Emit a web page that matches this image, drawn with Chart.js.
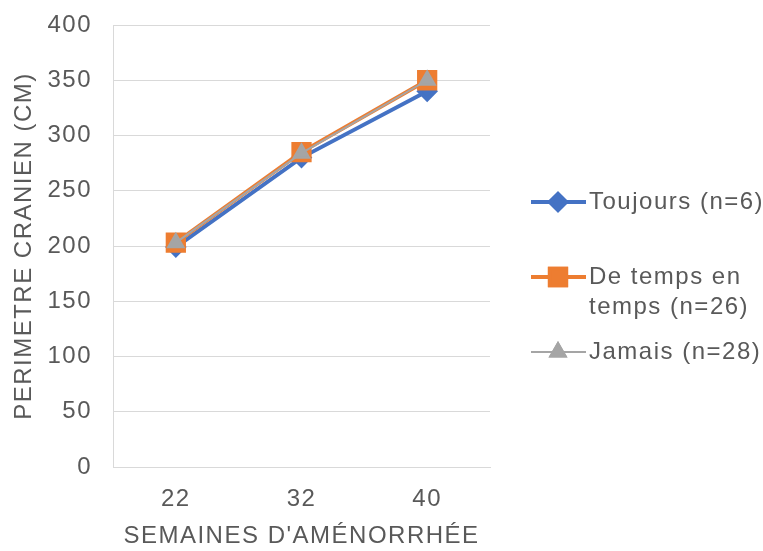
<!DOCTYPE html>
<html>
<head>
<meta charset="utf-8">
<script src="https://cdn.jsdelivr.net/npm/chart.js@4"></script>
<style>
  body{margin:0;background:#fff;}
  #wrap{position:relative;width:763px;height:551px;}
</style>
</head>
<body>
<div id="wrap"><canvas id="chart" width="763" height="551"></canvas></div>
<script>
// donnees -------------
const semaines = ['22', '32', '40'];
const toujours = [199, 280, 340];
const deTemps = [203, 285, 350];
const jamais = [203, 284, 350];
const legendLabels = [['Toujours (n=6)'], ['De temps en', 'temps (n=26)'], ['Jamais (n=28)']];

const txtColor = '#595959';
const gridColor = '#d9d9d9';
const fontFam = '"Liberation Sans", Arial, sans-serif';
const spacing = '1.5px';

// espacement des lettres (rendu type Excel)
const letterSpace = {
  id: 'letterSpace',
  beforeLayout(chart){ chart.ctx.letterSpacing = spacing; },
  beforeDraw(chart){ chart.ctx.letterSpacing = spacing; }
};

// legende dessinee a droite
const sideLegend = {
  id: 'sideLegend',
  afterDraw(chart){
    const ctx = chart.ctx;
    const rows = [202, 277, 352];
    chart.data.datasets.forEach((ds, i) => {
      const y = rows[i];
      ctx.save();
      ctx.strokeStyle = ds.borderColor;
      ctx.lineWidth = ds.borderWidth;
      ctx.beginPath();
      ctx.moveTo(531, y);
      ctx.lineTo(586, y);
      ctx.stroke();
      Chart.helpers.drawPoint(ctx, {
        pointStyle: ds.pointStyle,
        radius: ds.pointRadius,
        borderWidth: 1
      }, 558, y);
      ctx.fillStyle = ds.pointBackgroundColor;
      ctx.strokeStyle = ds.pointBorderColor;
      ctx.fill();
      ctx.stroke();
      ctx.fillStyle = txtColor;
      ctx.font = '24px ' + fontFam;
      ctx.letterSpacing = spacing;
      ctx.textBaseline = 'middle';
      legendLabels[i].forEach((t, k) => {
        ctx.fillText(t, 589, y + k * 30);
      });
      ctx.restore();
    });
  }
};

new Chart(document.getElementById('chart'), {
  type: 'line',
  data: {
    labels: semaines,
    datasets: [
      {
        label: 'Toujours (n=6)',
        data: toujours,
        borderColor: '#4472c4',
        backgroundColor: '#4472c4',
        pointBackgroundColor: '#4472c4',
        pointBorderColor: '#4472c4',
        borderWidth: 4,
        pointStyle: 'rectRot',
        pointRadius: 8,
        order: 3
      },
      {
        label: 'De temps en temps (n=26)',
        data: deTemps,
        borderColor: '#ed7d31',
        backgroundColor: '#ed7d31',
        pointBackgroundColor: '#ed7d31',
        pointBorderColor: '#ed7d31',
        borderWidth: 4,
        pointStyle: 'rect',
        pointRadius: 11.5,
        order: 2
      },
      {
        label: 'Jamais (n=28)',
        data: jamais,
        borderColor: '#a5a5a5',
        backgroundColor: '#a5a5a5',
        pointBackgroundColor: '#a5a5a5',
        pointBorderColor: '#a5a5a5',
        borderWidth: 2,
        pointStyle: 'triangle',
        pointRadius: 9,
        order: 1
      }
    ]
  },
  options: {
    responsive: false,
    animation: false,
    layout: { padding: { left: 0, right: 273, top: 25, bottom: 0 } },
    plugins: {
      legend: { display: false },
      tooltip: { enabled: false }
    },
    scales: {
      x: {
        offset: true,
        grid: { display: false },
        border: { display: true, color: gridColor, width: 1 },
        ticks: { color: txtColor, font: { family: fontFam, size: 24 }, padding: 10 },
        title: {
          display: true,
          text: "SEMAINES D'AMÉNORRHÉE",
          color: txtColor,
          font: { family: fontFam, size: 24 },
          padding: { top: 0, bottom: 0 }
        },
        afterFit(scale){ scale.height = 84; }
      },
      y: {
        min: 0,
        max: 400,
        ticks: { stepSize: 50, color: txtColor, font: { family: fontFam, size: 24 }, padding: 21 },
        grid: { color: gridColor, drawTicks: false },
        border: { display: true, color: gridColor },
        title: {
          display: true,
          text: 'PERIMETRE CRANIEN (CM)',
          color: txtColor,
          font: { family: fontFam, size: 24 },
          padding: { top: 10, bottom: 0 }
        },
        afterFit(scale){
          scale.width = 113;
          scale.paddingTop = 0;
          scale.paddingBottom = 0;
        }
      }
    }
  },
  plugins: [letterSpace, sideLegend]
});
</script>
</body>
</html>
